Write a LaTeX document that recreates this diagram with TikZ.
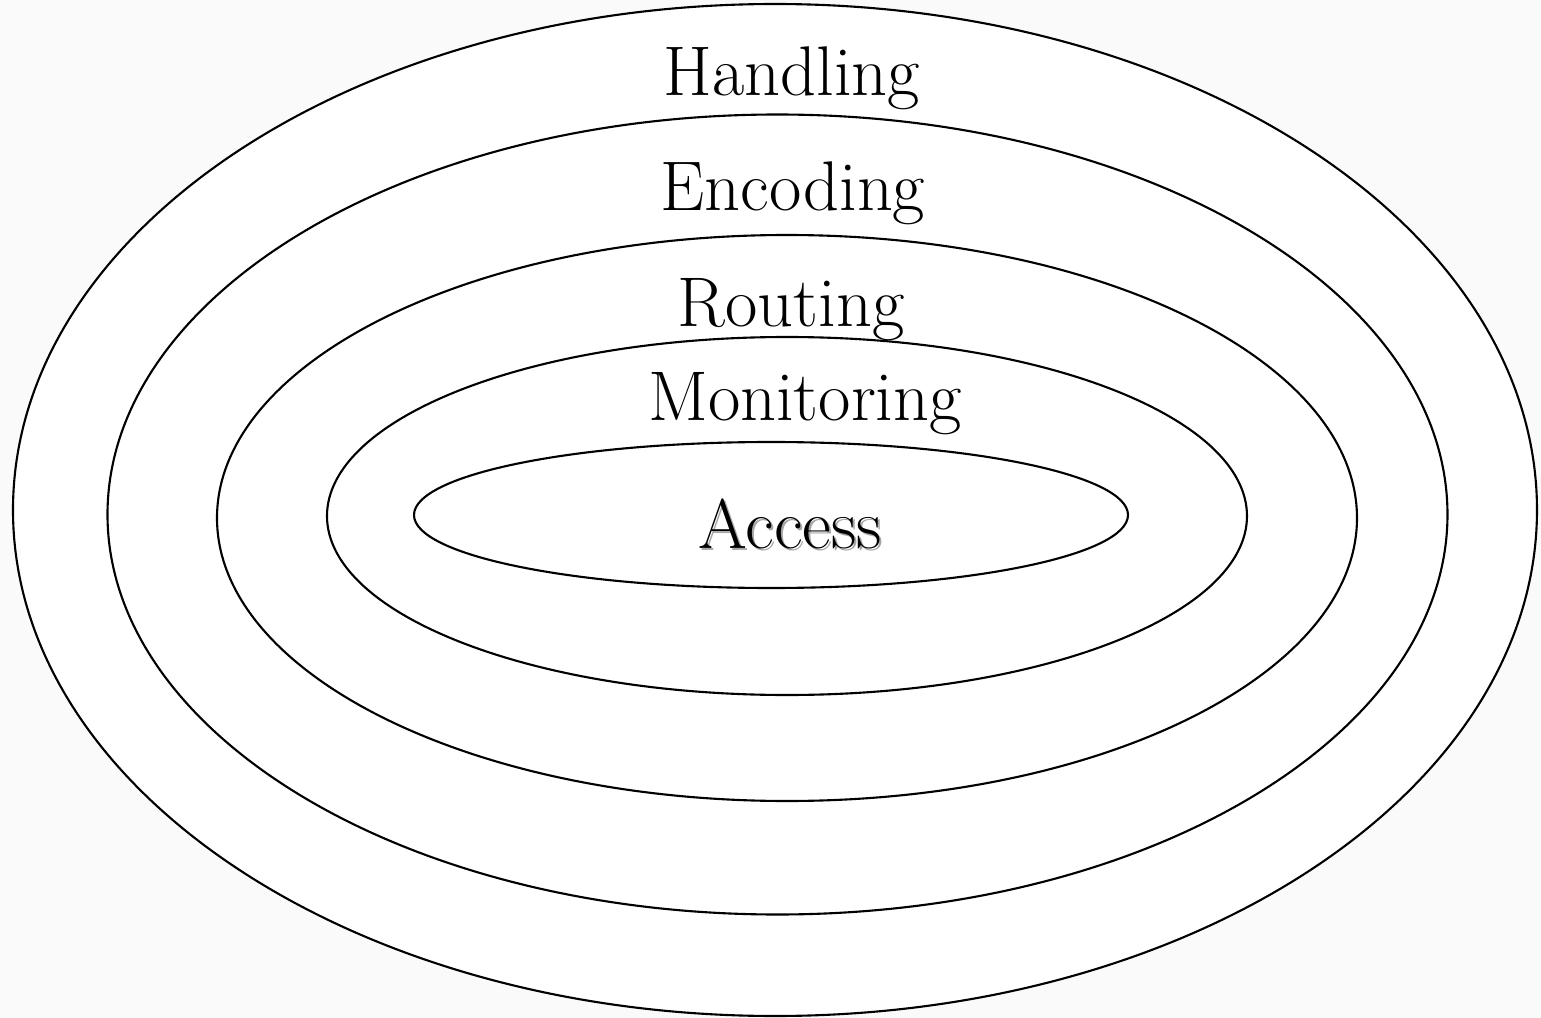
\documentclass[tikz,border=0pt]{standalone}
\begin{document}
\begin{tikzpicture}[x=0.01cm,y=-0.01cm,
  ring/.style={draw=black,line width=0.6pt,fill=white},
  layer/.style={anchor=base,font=\fontsize{20}{22}\selectfont,inner sep=0pt}]
  % page background
  \fill[black!2] (0,0) rectangle (1541,1018);
  \useasboundingbox (0,0) rectangle (1541,1018);
  % nested rings, outermost first
  \path[ring] (775,510) ellipse [x radius=762,y radius=506];
  \path[ring] (777.5,514.5) ellipse [x radius=670,y radius=400];
  \path[ring] (787,518) ellipse [x radius=570,y radius=283];
  \path[ring] (787,516) ellipse [x radius=460,y radius=179];
  \path[ring] (771,515) ellipse [x radius=357,y radius=73];
  % labels
  \node[layer] (handling) at (792,95) {Handling};
  \node[layer] (encoding) at (793,210) {Encoding};
  \node[layer] (routing) at (791,327) {Routing};
  \node[layer] (monitoring) at (805,420) {Monitoring};
  \node[layer,text=black!35] (accessshadow) at (792,550) {Access};
  \node[layer] (access) at (790,548) {Access};
\end{tikzpicture}
\end{document}
